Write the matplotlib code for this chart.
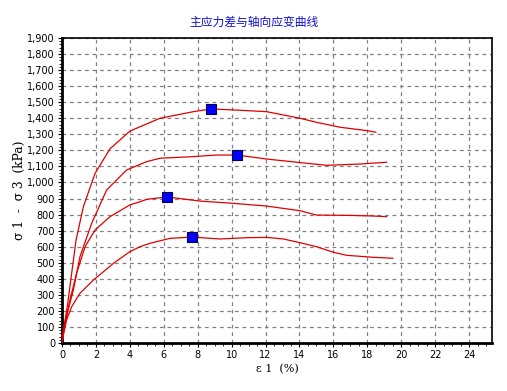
import matplotlib
matplotlib.use("Agg")
import matplotlib.pyplot as plt
from matplotlib.ticker import MultipleLocator, FuncFormatter

plt.rcParams['font.family'] = ['Noto Sans CJK SC', 'DejaVu Sans']

title = "主应力差与轴向应变曲线"
xlabel = "ε 1  (%)"
ylabel = "σ 1  -  σ 3  (kPa)"

x1 = [0, 0.08, 0.31, 0.57, 0.83, 1.26, 1.95, 2.83, 3.42, 4.0, 5.78, 7.74, 8.79, 10.1, 12.07, 14.03, 15.0, 16.4, 17.97, 18.5]
y1 = [0, 80, 226, 434, 642, 849, 1057, 1210, 1265, 1320, 1400, 1441, 1458, 1452, 1441, 1400, 1375, 1344, 1323, 1313]

x2 = [0, 0.1, 0.31, 0.67, 1.06, 1.75, 2.63, 3.81, 5.0, 5.78, 7.74, 9.1, 10.32, 12.07, 14.03, 15.6, 17.57, 19.14]
y2 = [0, 80, 187, 330, 538, 746, 953, 1078, 1130, 1151, 1161, 1171, 1171, 1146, 1124, 1107, 1115, 1126]

x3 = [0, 0.1, 0.47, 0.86, 1.36, 1.95, 2.83, 4.0, 4.6, 5.0, 6.19, 8.14, 10.1, 12.07, 14.03, 15.0, 16.98, 18.35, 19.14]
y3 = [0, 70, 268, 434, 600, 704, 787, 860, 880, 895, 910, 884, 870, 853, 824, 797, 795, 791, 787]

x4 = [0, 0.1, 0.27, 0.57, 1.06, 1.85, 3.03, 4.0, 4.6, 5.19, 6.37, 7.67, 9.3, 10.9, 12.07, 13.05, 14.03, 15.0, 16.0, 16.8, 18.35, 19.5]
y4 = [0, 60, 143, 226, 310, 392, 496, 569, 600, 621, 652, 660, 648, 656, 658, 648, 625, 600, 565, 546, 534, 528]

peak_x = [8.79, 10.32, 6.19, 7.67]
peak_y = [1458, 1171, 910, 660]

fig = plt.figure(figsize=(5.07, 3.91), dpi=100)
ax = fig.add_axes([62/507, 1-343/391, (492-62)/507, (343-38)/391])

for xs, ys in [(x1, y1), (x2, y2), (x3, y3), (x4, y4)]:
    ax.plot(xs, ys, color='#e00000', lw=0.9, zorder=3)
ax.plot(peak_x, peak_y, ls='none', marker='s', ms=7, mfc='#0000ff',
        mec='#000040', mew=0.8, zorder=4)

ax.set_xlim(0, 25.35)
ax.set_ylim(0, 1900)
ax.xaxis.set_major_locator(MultipleLocator(2))
ax.xaxis.set_minor_locator(MultipleLocator(0.5))
ax.yaxis.set_major_locator(MultipleLocator(100))
ax.yaxis.set_minor_locator(MultipleLocator(20))
ax.yaxis.set_major_formatter(FuncFormatter(lambda v, p: f"{int(round(v)):,}"))
ax.grid(True, which='major', color='#808080', ls=(0, (3, 3)), lw=0.9)
ax.tick_params(which='major', direction='out', length=3, width=0.8,
               labelsize=7, colors='black', pad=2, labelfontfamily='DejaVu Sans')
ax.tick_params(which='minor', direction='out', length=2, width=0.6)
for s in ['left', 'bottom']:
    ax.spines[s].set_linewidth(2)
for s in ['top', 'right']:
    ax.spines[s].set_linewidth(1.2)

fig.text(0.5, 1-22/391, title, color='#1010d0', fontsize=8.5, ha='center', va='center')
ax.set_xlabel(xlabel, fontsize=8, labelpad=3, family='DejaVu Serif')
ax.set_ylabel(ylabel, fontsize=8.8, labelpad=1, family='DejaVu Serif')

fig.savefig("out.png", dpi=100)
